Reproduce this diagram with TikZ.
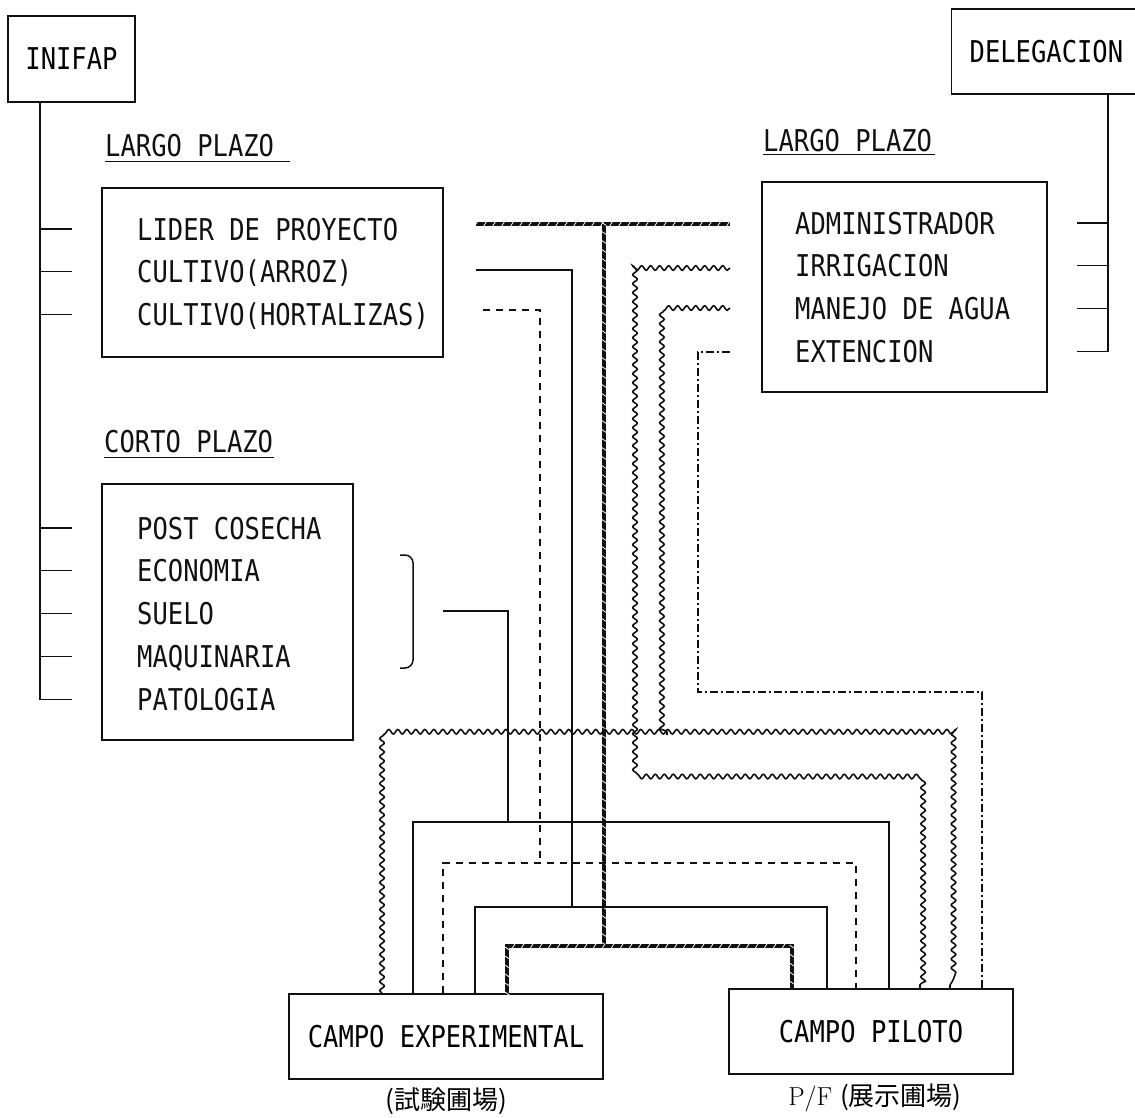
\documentclass[tikz,border=0pt]{standalone}
\usepackage{fontspec}
\usepackage{xcolor}
\usepackage{tikz}
\usetikzlibrary{positioning,decorations.pathmorphing,decorations.markings}
\newfontfamily\tw[FakeStretch=0.85]{DejaVu Sans Mono}
\newfontfamily\cjk{Noto Sans CJK JP}
\newcommand\twfont{\tw\fontsize{30pt}{30pt}\selectfont}
\newcommand\jpfont{\fontsize{26pt}{26pt}\selectfont}
\definecolor{ink}{HTML}{111111}

\begin{document}
\begin{tikzpicture}[
 x=1pt,y=-1pt,
 box/.style={draw=ink,line width=1.3pt,inner sep=0pt,font=\twfont},
 item/.style={anchor=west,inner sep=0pt,text height=22pt,text depth=0pt,font=\twfont,text=ink},
 rule/.style={draw=ink,line width=1.3pt},
 link/.style={draw=ink,line width=1.5pt},
 dline/.style={link,dash pattern=on 7pt off 6pt},
 ddline/.style={link,dash pattern=on 8pt off 3pt on 2pt off 3pt},
 wline/.style={link,line width=1.6pt,decorate,decoration={snake,segment length=9pt,amplitude=2.3pt}},
 hatch/.style={draw=ink,line width=3.6pt,postaction={decorate,decoration={markings,
   mark=between positions 0 and 1 step 9pt with {\draw[white,line width=0.8pt] (-1.6pt,-2.4pt) -- (1.6pt,2.4pt);}}}},
 node distance=20.4pt
]
\path[use as bounding box,fill=white] (0,0) rectangle (1135,1117);

% heads
\node[box,minimum width=127pt,minimum height=86pt] (inifap) at (71.5,59) {INIFAP};
\node[box,anchor=west,inner xsep=18pt,minimum height=85pt] (deleg) at (951,51.5) {DELEGACION};

% INIFAP, largo plazo
\node[item] (lplazo) at (105,145) {LARGO PLAZO};
\draw[rule] (lplazo.south west) ++(0,5) -- ++(185,0);
\node[box,minimum width=341pt,minimum height=169pt] (plazo1) at (272.5,272.5) {};
\node[item] (lider) at (137,229) {LIDER DE PROYECTO};
\node[item,below=of lider.south west,anchor=north west] (arroz) {CULTIVO(ARROZ)};
\node[item,below=of arroz.south west,anchor=north west] (hort) {CULTIVO(HORTALIZAS)};

% INIFAP, corto plazo
\node[item] (cplazo) at (104,441) {CORTO PLAZO};
\draw[rule] (cplazo.south west) ++(0,5) -- ++(170,0);
\node[box,minimum width=251pt,minimum height=256pt] (plazo2) at (227.5,612) {};
\node[item] (post) at (137,528) {POST COSECHA};
\node[item,below=of post.south west,anchor=north west] (econ) {ECONOMIA};
\node[item,below=of econ.south west,anchor=north west] (suelo) {SUELO};
\node[item,below=of suelo.south west,anchor=north west] (maq) {MAQUINARIA};
\node[item,below=of maq.south west,anchor=north west] (pato) {PATOLOGIA};
\draw[link,rounded corners=8pt] (400,555) -- (413,555) -- (413,668) -- (400,668);

% DELEGACION, largo plazo
\node[item] (rplazo) at (763,140) {LARGO PLAZO};
\draw[rule] (rplazo.south west) ++(0,3) -- ++(172,0);
\node[box,minimum width=285pt,minimum height=210pt] (plazo3) at (904.5,287) {};
\node[item] (admin) at (795,223) {ADMINISTRADOR};
\node[item,below=of admin.south west,anchor=north west] (irrig) {IRRIGACION};
\node[item,below=of irrig.south west,anchor=north west] (manejo) {MANEJO DE AGUA};
\node[item,below=of manejo.south west,anchor=north west] (exten) {EXTENCION};

% rails
\draw[rule] (inifap.south -| 40,0) |- (pato.west -| 72,0);
\foreach \n in {lider,arroz,hort,post,econ,suelo,maq}
  \draw[rule] (\n.west -| 40,0) -- (\n.west -| 72,0);
\draw[rule] (deleg.south -| 1108,0) |- (exten.east -| 1077,0);
\foreach \n in {admin,irrig,manejo}
  \draw[rule] (\n.east -| 1077,0) -- (\n.east -| 1108,0);

% fields
\node[box,minimum width=314pt,minimum height=85pt] (campoexp) at (446,1036.5) {CAMPO EXPERIMENTAL};
\node[box,minimum width=284pt,minimum height=85pt] (campopil) at (871,1031.5) {CAMPO PILOTO};
\node[font=\cjk\jpfont,inner sep=0pt,below=8pt of campoexp] (expjp) {(試験圃場)};
\node[font=\jpfont,inner sep=0pt,below=9pt of campopil,xshift=4pt] (piljp) {P/F \cjk(展示圃場)};

% line ends
\coordinate (lider-out) at (476,224);
\coordinate (arroz-out) at (476,270);
\coordinate (hort-out) at (483,310);
\coordinate (corto-out) at (443,611);
\coordinate (admin-in) at (730,224);
\coordinate (irrig-in) at (730,268);
\coordinate (manejo-in) at (730,308);
\coordinate (exten-in) at (730,352);

% lider de proyecto / administrador
\draw[hatch] (lider-out) -- (admin-in);
\draw[hatch] (lider-out -| 604,0) -- (604,946);
\draw[hatch] (campoexp.north -| 507,0) |- (792,946) -- (campopil.north -| 792,0);
% cultivo (arroz)
\draw[link] (arroz-out) -| (572,907);
\draw[link] (campoexp.north -| 475,0) |- (827,907) -- (campopil.north -| 827,0);
% cultivo (hortalizas)
\draw[dline] (hort-out) -| (540,863);
\draw[dline] (campoexp.north -| 443,0) |- (856,863) -- (campopil.north -| 856,0);
% corto plazo
\draw[link] (corto-out) -| (508,822);
\draw[link] (campoexp.north -| 413,0) |- (889,822) -- (campopil.north -| 889,0);
% irrigacion
\draw[wline] (irrig-in) -| (636,778) -| (campopil.north -| 920,0);
% manejo de agua
\draw[wline] (manejo-in) -| (667,735);
\draw[wline] (campoexp.north -| 382,0) |- (950,735) -- (campopil.north -| 950,0);
% extencion
\draw[ddline] (exten-in) -| (698,692) -| (campopil.north -| 982,0);
\end{tikzpicture}
\end{document}
